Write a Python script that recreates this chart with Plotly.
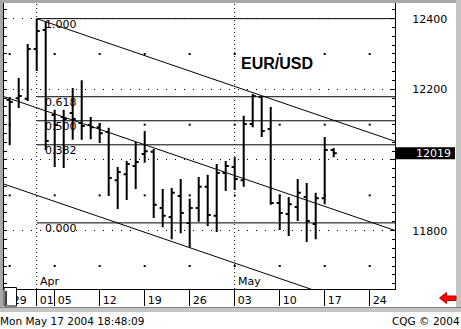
import plotly.graph_objects as go

# ---------------- data ----------------
dates = ["03-29", "03-30", "03-31", "04-01", "04-02", "04-05", "04-06", "04-07", "04-08", "04-09",
         "04-12", "04-13", "04-14", "04-15", "04-16", "04-19", "04-20", "04-21", "04-22", "04-23",
         "04-26", "04-27", "04-28", "04-29", "04-30", "05-03", "05-04", "05-05", "05-06", "05-07",
         "05-10", "05-11", "05-12", "05-13", "05-14", "05-17", "05-18"]
opens = [12170, 12175, 12173, 12314, 12368, 12127, 12122, 12133, 12105, 12099,
         12093, 12079, 11943, 11960, 11983, 12017, 12023, 11864, 11839, 11898,
         11822, 11864, 11924, 11842, 11963, 11980, 11943, 12102, 12178, 12088,
         11878, 11847, 11867, 11895, 11819, 11892, 12028]
highs = [12178, 12232, 12328, 12399, 12391, 12142, 12142, 12204, 12226, 12122,
         12105, 12091, 11980, 11997, 12051, 12082, 12031, 11918, 11921, 11946,
         11890, 11952, 11958, 11989, 11997, 12008, 12125, 12187, 12181, 12150,
         11901, 11895, 11946, 11935, 11907, 12065, 12034]
lows = [12042, 12147, 12167, 12252, 12028, 11980, 11977, 12057, 12057, 12059,
        12048, 11898, 11861, 11887, 11918, 11992, 11836, 11810, 11776, 11793,
        11751, 11825, 11813, 11796, 11912, 11915, 11924, 12093, 12065, 11873,
        11802, 11785, 11827, 11768, 11776, 11875, 12008]
closes = [12164, 12181, 12314, 12365, 12054, 12099, 12116, 12116, 12096, 12093,
          12076, 11949, 11966, 11989, 11994, 12025, 11873, 11842, 11907, 11850,
          11864, 11924, 11844, 11963, 11983, 11946, 12102, 12181, 12082, 11878,
          11850, 11875, 11907, 11827, 11892, 12028, 12019]
last_price = 12019

# x tick positions are trading-day positions (0 = Mar 29)
tick_pos = [0, 3, 5, 10, 15, 20, 25, 30, 35, 40]
tick_text = ["29", "01", "05", "12", "19", "26", "03", "10", "17", "24"]
month_pos = [3, 25]
month_text = ["Apr", "May"]
week_pos = [0, 5, 10, 15, 20, 25, 30, 35, 40]

y_ticks = [11800, 12000, 12200, 12400]
y_tick_text = ["11800", "", "12200", "12400"]   # 12000 label is hidden under the last-price box
half_levels = [11700, 11900, 12100, 12300]

# Fibonacci retracement levels
fib_text = ["1.000", "0.618", "0.500", "0.382", "0.000"]
fib_price = [12400, 12179, 12111, 12043, 11822]
fib_start = 3

# parallel channel lines: (x0, y0, x1, y1)
chan_x0 = [3, -1, -1]
chan_y0 = [12400, 12182.6, 11935]
chan_x1 = [43, 43, 43]
chan_y1 = [12051.2, 11798.9, 11551.3]

# ---------------- geometry ----------------
W, H = 461, 329
ML, MR, MT, MB = 4, 66, 3, 40
PW, PH = W - ML - MR, H - MT - MB
XR = [-0.633, 42.81]
YR = [11634.9, 12444.3]

def px(x):
    return (x - ML) / PW

def py(y):
    return (H - MB - y) / PH

FONT = "DejaVu Sans"
fig = go.Figure()

# grid dots at week x 100-levels
fig.add_trace(go.Scatter(
    x=[w for w in week_pos for _ in half_levels],
    y=[lv for _ in week_pos for lv in half_levels],
    mode="markers", marker=dict(symbol="square", size=2, color="black", line_width=0),
    hoverinfo="skip", showlegend=False))

# fib lines
for t, p in zip(fib_text, fib_price):
    fig.add_trace(go.Scatter(x=[fib_start, XR[1] + 1], y=[p, p], mode="lines",
                             line=dict(color="black", width=1), hoverinfo="skip",
                             showlegend=False))

# channel lines
for a, b, c, d in zip(chan_x0, chan_y0, chan_x1, chan_y1):
    fig.add_trace(go.Scatter(x=[a, c], y=[b, d], mode="lines",
                             line=dict(color="black", width=1), hoverinfo="skip",
                             showlegend=False))

# OHLC bars
fig.add_trace(go.Ohlc(
    x=list(range(len(dates))), open=opens, high=highs, low=lows, close=closes,
    increasing=dict(line=dict(color="black", width=2)),
    decreasing=dict(line=dict(color="black", width=2)),
    tickwidth=0.34, hoverinfo="skip", showlegend=False))

# invisible trace for the left axis
fig.add_trace(go.Scatter(x=[0], y=[12000], yaxis="y2", mode="markers",
                         marker=dict(opacity=0), hoverinfo="skip", showlegend=False))

shapes = []
# month dotted verticals
for m in month_pos:
    shapes.append(dict(type="line", xref="x", yref="paper", x0=m, x1=m, y0=0, y1=1,
                       line=dict(color="black", width=1, dash="1px,3px"), layer="below"))

# last price box
shapes.append(dict(type="rect", xref="paper", yref="y", x0=1.0, x1=px(455),
                   y0=last_price - 17, y1=last_price + 17,
                   fillcolor="black", line=dict(width=0), layer="above"))

# cursor box at bottom left
shapes.append(dict(type="rect", xref="paper", yref="paper", x0=px(4), x1=px(16.5),
                   y0=py(306), y1=py(287.5), fillcolor="white",
                   line=dict(color="black", width=1), layer="above"))
shapes.append(dict(type="line", xref="paper", yref="paper", x0=px(6), x1=px(6),
                   y0=py(305), y1=py(291), line=dict(color="black", width=1.5), layer="above"))

# frame
frame_col = "#a8a8a8"
shapes += [
    dict(type="rect", xref="paper", yref="paper", x0=px(0), x1=px(461), y0=py(3), y1=py(0),
         fillcolor=frame_col, line=dict(width=0), layer="above"),
    dict(type="rect", xref="paper", yref="paper", x0=px(0), x1=px(3), y0=py(308), y1=py(0),
         fillcolor=frame_col, line=dict(width=0), layer="above"),
    dict(type="rect", xref="paper", yref="paper", x0=px(456), x1=px(461), y0=py(308), y1=py(0),
         fillcolor="#c4c4c4", line=dict(width=0), layer="above"),
    dict(type="rect", xref="paper", yref="paper", x0=px(0), x1=px(461), y0=py(312), y1=py(307),
         fillcolor="#c4c4c4", line=dict(width=0), layer="above"),
    dict(type="line", xref="paper", yref="paper", x0=px(0), x1=px(461), y0=py(307.5), y1=py(307.5),
         line=dict(color="#808080", width=1), layer="above"),
]

# red arrow
pts = [(439.5, 298), (446.5, 292.5), (446.5, 296), (456, 296), (456, 300.5),
       (446.5, 300.5), (446.5, 303.5)]
path = "M " + " L ".join(f"{px(a):.5f},{py(b):.5f}" for a, b in pts) + " Z"
shapes.append(dict(type="path", xref="paper", yref="paper", path=path,
                   fillcolor="#ff0000", line=dict(color="#c00000", width=1), layer="above"))

ann = []
for t, p in zip(fib_text, fib_price):
    ann.append(dict(x=fib_start + 0.8, y=p, xref="x", yref="y", text=t, showarrow=False,
                    xanchor="left", yanchor="top", yshift=2, borderpad=0,
                    font=dict(family=FONT, size=11, color="black")))
for m, t in zip(month_pos, month_text):
    ann.append(dict(x=m, y=0, xref="x", yref="paper", text=t, showarrow=False,
                    xanchor="left", yanchor="bottom", xshift=2, yshift=0, borderpad=0,
                    font=dict(family=FONT, size=11, color="black")))
ann.append(dict(x=px(277), y=py(63), xref="paper", yref="paper", text="<b>EUR/USD</b>",
                showarrow=False, xanchor="center", yanchor="middle",
                font=dict(family="Liberation Sans, Arial", size=16, color="black")))
ann.append(dict(x=px(452.5), y=last_price, xref="paper", yref="y", text=str(last_price),
                showarrow=False, xanchor="right", yanchor="middle", borderpad=0,
                font=dict(family=FONT, size=11, color="white")))
ann.append(dict(x=px(-1), y=py(321.5), xref="paper", yref="paper",
                text="Mon May 17 2004 18:48:09", showarrow=False, xanchor="left",
                yanchor="middle", borderpad=0, font=dict(family=FONT, size=10.5, color="black")))
ann.append(dict(x=px(460.5), y=py(321.5), xref="paper", yref="paper",
                text="CQG © 2004", showarrow=False, xanchor="right",
                yanchor="middle", borderpad=0, font=dict(family=FONT, size=10.5, color="black")))

fig.update_layout(
    width=W, height=H, margin=dict(l=ML, r=MR, t=MT, b=MB),
    paper_bgcolor="white", plot_bgcolor="white", showlegend=False,
    xaxis=dict(type="linear", range=XR, rangeslider=dict(visible=False),
               tickmode="array", tickvals=tick_pos, ticktext=tick_text,
               ticks="outside", ticklen=16, tickwidth=1, tickcolor="black",
               showline=True, linecolor="black", linewidth=1, showgrid=False,
               zeroline=False, ticklabelshift=10, ticklabelstandoff=-15,
               tickfont=dict(family=FONT, size=11, color="black")),
    yaxis=dict(side="right", range=YR, tickmode="array", tickvals=y_ticks,
               ticktext=y_tick_text, ticks="inside", ticklen=5,
               tickcolor="black", showline=True, linecolor="black", linewidth=1,
               showgrid=True, gridcolor="black", gridwidth=1, griddash="1px,8px",
               zeroline=False, ticklabelstandoff=14,
               minor=dict(tick0=0, dtick=25, ticks="inside", ticklen=3, tickcolor="black",
                          showgrid=False),
               tickfont=dict(family=FONT, size=11, color="black")),
    yaxis2=dict(side="left", overlaying="y", range=YR, tick0=0, dtick=25, ticks="inside",
                ticklen=3, tickcolor="black", showline=True, linecolor="black",
                linewidth=1, showgrid=False, zeroline=False, showticklabels=False),
    shapes=shapes, annotations=ann,
)

fig.write_html("out.html")
